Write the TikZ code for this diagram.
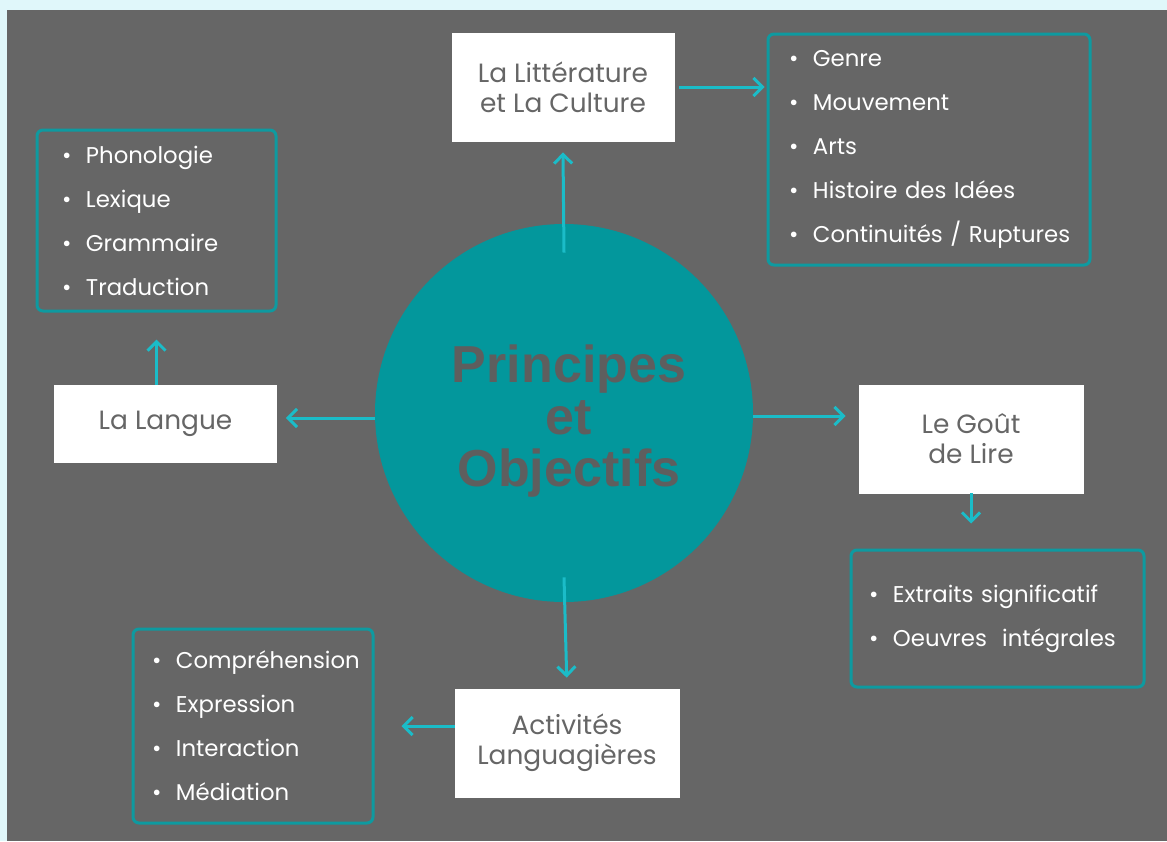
\documentclass[tikz,border=0pt]{standalone}
\usepackage{fontspec}
\setmainfont{Poppins}
\newfontfamily\titlefont{Liberation Sans}
\usetikzlibrary{arrows.meta}
\definecolor{bgcyan}{RGB}{224,247,250}
\definecolor{slate}{RGB}{102,102,102}
\definecolor{teal}{RGB}{3,151,156}
\definecolor{frame}{RGB}{14,154,160}
\definecolor{arrowc}{RGB}{27,188,200}
\newcommand{\itm}[1]{\mbox{\makebox[12pt][l]{\textbullet}#1}}

\begin{document}
\begin{tikzpicture}[x=0.5pt,y=-0.5pt,
    box/.style={draw=white,fill=white,text=slate,align=center,
        font=\fontsize{13.2}{15}\selectfont,minimum width=111pt,minimum height=54pt},
    list/.style={draw=frame,line width=1.5pt,rounded corners=3pt,text=white,
        align=left,font=\fontsize{11.4}{22}\selectfont},
    arr/.style={arrowc,line width=1.5pt,-{Straight Barb[length=4.5pt,width=9pt]}}]
    % background
    \fill[bgcyan] (0,0) rectangle (1167,841);
    \fill[slate] (7,10) rectangle (1167,841);
    % centre
    \node[circle,fill=teal,minimum size=189pt,inner sep=0pt] (circ) at (564,413) {};
    \node[text=slate!92!black,font=\titlefont\bfseries\fontsize{26}{26}\selectfont,align=center]
        (title) at ([xshift=2.5pt,yshift=-4pt]circ.center) {Principes\\et\\Objectifs};
    % main boxes
    \node[box] (lit) at (563,87) {La Littérature\\et La Culture};
    \node[box,minimum height=38.5pt] (lang) at (165.5,423.5) {La Langue};
    \node[box,minimum width=112pt] (gout) at (971,439) {Le Goût\\de Lire};
    \node[box,minimum width=112pt] (act) at (567,743) {Activités\\Languagières};
    % lists
    \node[list,minimum width=161pt,minimum height=115.5pt,inner xsep=10.5pt,text width=140pt]
        (lstLit) at (929,149.5)
        {\itm{Genre}\\\itm{Mouvement}\\\itm{Arts}\\\itm{Histoire des Idées}\\\itm{Continuités / Ruptures}};
    \node[list,minimum width=119.5pt,minimum height=90.5pt,inner xsep=12.5pt,text width=94.5pt]
        (lstLang) at (156.5,220.5)
        {\itm{Phonologie}\\\itm{Lexique}\\\itm{Grammaire}\\\itm{Traduction}};
    \node[list,minimum width=146.5pt,minimum height=68.5pt,inner xsep=9pt,text width=128.5pt]
        (lstGout) at (997.5,618.5)
        {\itm{Extraits significatif}\\\itm{Oeuvres~ intégrales}};
    \node[list,minimum width=120pt,minimum height=97pt,inner xsep=9.5pt,text width=101pt]
        (lstAct) at (253,726)
        {\itm{Compréhension}\\\itm{Expression}\\\itm{Interaction}\\\itm{Médiation}};
    % arrows
    \draw[arr] ([yshift=-14.5pt]circ.north) -- ([yshift=-5.5pt]lit.south);
    \draw[arr,shorten <=2.5pt,shorten >=1pt] (lit.east) -- (lit.east -| lstLit.west);
    \draw[arr,shorten >=4.5pt] ([yshift=-2.5pt]circ.west) -- ([yshift=-2.5pt]circ.west -| lang.east);
    \draw[arr,shorten >=13.5pt] (lstLang.south |- lang.north) -- (lstLang.south);
    \draw[arr,shorten >=6.5pt] ([yshift=-1.5pt]circ.east) -- ([yshift=-1.5pt]circ.east -| gout.west);
    \draw[arr,shorten >=12.5pt] (gout.south) -- (gout.south |- lstGout.north);
    \draw[arr,shorten >=5.5pt] ([yshift=12.5pt]circ.south) -- (act.north);
    \draw[arr,shorten >=13.5pt] (act.west |- lstAct.east) -- (lstAct.east);
\end{tikzpicture}
\end{document}
